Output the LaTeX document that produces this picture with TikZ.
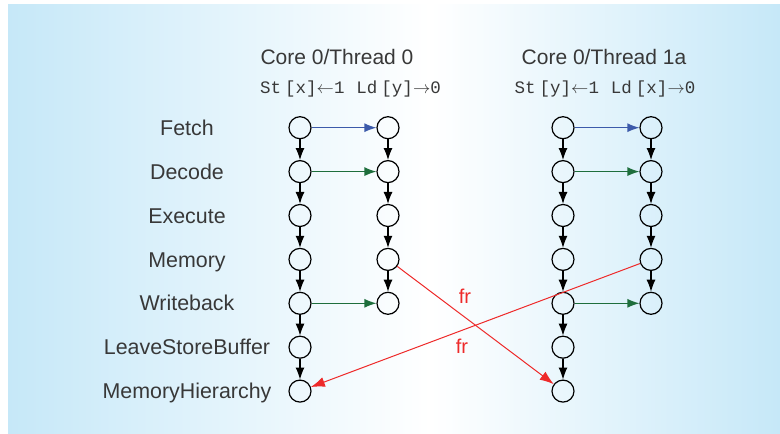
\documentclass[tikz,border=0pt]{standalone}
\usepackage{fontspec}
\setmainfont{Liberation Sans}
\newfontfamily\codefont{Liberation Mono}
\usetikzlibrary{arrows.meta}
\definecolor{bgblue}{HTML}{C6E8F8}
\definecolor{txtgray}{HTML}{383838}
\definecolor{fetchblue}{HTML}{3C5AAA}
\definecolor{decgreen}{HTML}{1E6E3C}
\definecolor{frred}{HTML}{EE2A2A}
\begin{document}
\begin{tikzpicture}[x=1pt,y=-1pt,
  ev/.style={circle,draw=black,line width=1.2pt,minimum size=22pt,inner sep=0pt},
  po/.style={-{Latex[length=12pt,width=9pt]},line width=1.1pt,black},
  fetchedge/.style={-{Latex[length=12pt,width=9pt]},line width=1.2pt,fetchblue},
  greenedge/.style={-{Latex[length=12pt,width=9pt]},line width=1.2pt,decgreen},
  fredge/.style={-{Latex[length=14pt,width=10pt]},line width=1pt,frred},
  lbl/.style={anchor=base,text=txtgray,font=\fontsize{21.4}{25}\selectfont,inner sep=0pt},
  hdr/.style={anchor=base,text=txtgray,font=\fontsize{21}{25}\selectfont,inner sep=0pt},
  code/.style={anchor=base,text=txtgray,font=\fontsize{17.5}{21}\selectfont\codefont,inner sep=0pt},
  frlbl/.style={text=frred,font=\fontsize{20}{24}\selectfont,inner sep=0pt}]
\useasboundingbox (0,0) rectangle (780,434);
\fill[white] (0,0) rectangle (780,434);
\shade[left color=bgblue,right color=white] (8,4) rectangle (430,434);
\shade[left color=white,right color=bgblue] (430,4) rectangle (780,434);

% headers
\node[hdr] (h0) at (337,64) {Core 0/Thread 0};
\node[hdr] (h1) at (604,64) {Core 0/Thread 1a};
\node[code] (c0) at (350.5,93) {St\kern4pt[x]$\leftarrow$1\kern12pt Ld\kern4pt[y]$\rightarrow$0};
\node[code] (c1) at (605,93) {St\kern4pt[y]$\leftarrow$1\kern12pt Ld\kern4pt[x]$\rightarrow$0};

% row labels
\foreach \t [count=\i] in {Fetch,Decode,Execute,Memory,Writeback,LeaveStoreBuffer,MemoryHierarchy}
  \node[lbl] (l\i) at (187,{127.7+43.9*(\i-1)+7.6}) {\t};

% events
\foreach \i in {1,...,7} {
  \node[ev] (ta\i) at (300,{127.7+43.9*(\i-1)}) {};
  \node[ev] (ua\i) at (563,{127.7+43.9*(\i-1)}) {};
}
\foreach \i in {1,...,5} {
  \node[ev] (tb\i) at (388,{127.7+43.9*(\i-1)}) {};
  \node[ev] (ub\i) at (651,{127.7+43.9*(\i-1)}) {};
}

% program order
\foreach \i [evaluate=\i as \j using int(\i+1)] in {1,...,6} {
  \draw[po] (ta\i) -- (ta\j);
  \draw[po] (ua\i) -- (ua\j);
}
\foreach \i [evaluate=\i as \j using int(\i+1)] in {1,...,4} {
  \draw[po] (tb\i) -- (tb\j);
  \draw[po] (ub\i) -- (ub\j);
}

% horizontal
\draw[fetchedge] (ta1) -- (tb1);
\draw[fetchedge] (ua1) -- (ub1);
\draw[greenedge] (ta2) -- (tb2);
\draw[greenedge] (ua2) -- (ub2);
\draw[greenedge] (ta5) -- (tb5);
\draw[greenedge] (ua5) -- (ub5);

% from-read
\draw[fredge] (tb4) -- (ua7);
\draw[fredge] (ub4) -- (ta7);
\node[frlbl] (fr1) at (465,296) {fr};
\node[frlbl] (fr2) at (462,346) {fr};
\end{tikzpicture}
\end{document}
